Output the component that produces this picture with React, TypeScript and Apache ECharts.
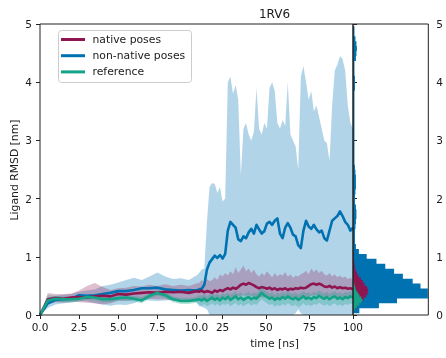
import React, { useEffect, useRef } from "react";
import * as echarts from "echarts";

// Time samples (ns): fine sampling in the first 10 ns, then the production run.
const timeEarly = [0, 0.5, 1, 1.5, 2, 2.5, 3, 3.5, 4, 4.5, 5, 5.5, 6, 6.5, 7, 7.5, 8, 8.5, 9, 9.5, 10];
const timeLate = [
  11.5, 13, 14.5, 16, 17.5, 19, 20.5, 22, 23.5, 25, 26.5, 28, 29.5, 31, 32.5, 34, 35.5, 37, 38.5, 40,
  41.5, 43, 44.5, 46, 47.5, 49, 50.5, 52, 53.5, 55, 56.5, 58, 59.5, 61, 62.5, 64, 65.5, 67, 68.5, 70,
  71.5, 73, 74.5, 76, 77.5, 79, 80.5, 82, 83.5, 85, 86.5, 88, 89.5, 91, 92.5, 94, 95.5, 97, 98.5, 100,
];

// native poses: mean and spread (nm)
const nativeMeanEarly = [0, 0.27, 0.29, 0.28, 0.3, 0.31, 0.3, 0.32, 0.33, 0.32, 0.36, 0.35, 0.37, 0.38, 0.39, 0.38, 0.4, 0.39, 0.4, 0.38, 0.41];
const nativeHiEarly = [0, 0.38, 0.36, 0.36, 0.37, 0.42, 0.5, 0.55, 0.48, 0.43, 0.46, 0.47, 0.5, 0.49, 0.52, 0.5, 0.53, 0.5, 0.52, 0.5, 0.54];
const nativeLoEarly = [0, 0.18, 0.22, 0.21, 0.23, 0.22, 0.21, 0.2, 0.18, 0.2, 0.25, 0.24, 0.26, 0.27, 0.28, 0.27, 0.27, 0.25, 0.26, 0.25, 0.27];
const nativeMeanLate = [
  0.4, 0.42, 0.39, 0.41, 0.4, 0.38, 0.42, 0.4, 0.43, 0.41, 0.44, 0.46, 0.44, 0.47, 0.45, 0.48, 0.52, 0.54, 0.52, 0.55,
  0.53, 0.51, 0.48, 0.46, 0.48, 0.47, 0.45, 0.47, 0.44, 0.46, 0.43, 0.45, 0.44, 0.46, 0.43, 0.45, 0.44, 0.46, 0.45, 0.47,
  0.46, 0.47, 0.5, 0.53, 0.54, 0.52, 0.54, 0.52, 0.49, 0.48, 0.5, 0.47, 0.49, 0.46, 0.48, 0.46, 0.47, 0.45, 0.46, 0.44,
];
const nativeHiLate = [
  0.55, 0.6, 0.55, 0.62, 0.58, 0.6, 0.65, 0.6, 0.7, 0.66, 0.72, 0.68, 0.75, 0.7, 0.82, 0.72, 0.78, 0.85, 0.75, 0.8,
  0.72, 0.78, 0.7, 0.66, 0.72, 0.68, 0.75, 0.7, 0.65, 0.72, 0.66, 0.7, 0.68, 0.74, 0.66, 0.7, 0.64, 0.68, 0.66, 0.7,
  0.72, 0.76, 0.7, 0.8, 0.74, 0.78, 0.72, 0.76, 0.7, 0.68, 0.72, 0.66, 0.7, 0.65, 0.68, 0.64, 0.66, 0.62, 0.64, 0.6,
];
const nativeLoLate = [
  0.27, 0.28, 0.26, 0.27, 0.26, 0.25, 0.28, 0.27, 0.29, 0.27, 0.3, 0.31, 0.29, 0.31, 0.3, 0.32, 0.33, 0.34, 0.33, 0.34,
  0.33, 0.32, 0.31, 0.3, 0.31, 0.3, 0.29, 0.3, 0.28, 0.3, 0.28, 0.29, 0.28, 0.3, 0.28, 0.29, 0.28, 0.3, 0.29, 0.3,
  0.3, 0.31, 0.32, 0.33, 0.34, 0.33, 0.34, 0.33, 0.31, 0.31, 0.32, 0.3, 0.31, 0.3, 0.31, 0.3, 0.3, 0.29, 0.3, 0.29,
];

// non-native poses: mean and spread (nm)
const nonNativeMeanEarly = [0, 0.2, 0.26, 0.27, 0.28, 0.34, 0.33, 0.34, 0.36, 0.38, 0.41, 0.41, 0.43, 0.46, 0.46, 0.47, 0.44, 0.43, 0.42, 0.43, 0.42];
const nonNativeHiEarly = [0, 0.3, 0.33, 0.35, 0.36, 0.4, 0.42, 0.44, 0.5, 0.52, 0.56, 0.6, 0.64, 0.6, 0.66, 0.73, 0.66, 0.62, 0.63, 0.6, 0.68];
const nonNativeLoEarly = [0, 0.12, 0.18, 0.2, 0.21, 0.24, 0.23, 0.2, 0.18, 0.16, 0.18, 0.17, 0.2, 0.26, 0.25, 0.24, 0.25, 0.26, 0.24, 0.25, 0.22];
const nonNativeMeanLate = [
  0.44, 0.45, 0.52, 0.78, 0.9, 0.96, 1.02, 0.98, 1.03, 0.97, 1.05, 1.45, 1.6, 1.55, 1.5, 1.3, 1.27, 1.35, 1.32, 1.42,
  1.48, 1.4, 1.55, 1.47, 1.4, 1.44, 1.57, 1.6, 1.55, 1.62, 1.66, 1.4, 1.32, 1.5, 1.58, 1.5, 1.38, 1.35, 1.2, 1.15,
  1.45, 1.62, 1.52, 1.48, 1.55, 1.47, 1.42, 1.45, 1.32, 1.28, 1.45, 1.62, 1.66, 1.7, 1.78, 1.7, 1.6, 1.55, 1.45, 1.5,
];
const nonNativeHiLate = [
  0.72, 0.78, 0.8, 1.6, 2.2, 2.27, 2.25, 2.1, 2.2, 1.95, 2.0, 4.0, 4.1, 3.8, 3.95, 3.7, 2.4, 3.2, 3.3, 3.1,
  3.0, 3.15, 3.9, 3.2, 3.1, 3.3, 3.2, 3.9, 4.0, 3.85, 3.3, 3.2, 3.35, 3.25, 4.0, 3.1, 3.0, 2.9, 2.5, 4.1,
  4.28, 4.0, 3.7, 3.85, 3.5, 3.6, 3.4, 3.2, 3.0, 2.95, 2.65, 3.6, 4.2, 4.3, 4.45, 4.4, 4.2, 3.6, 3.3, 3.2,
];
const nonNativeLoLate = [
  0.15, 0.14, 0.12, 0.1, 0, 0, 0, 0, 0, 0, 0, 0, 0, 0, 0, 0, 0, 0, 0, 0,
  0, 0, 0, 0, 0, 0, 0, 0, 0, 0, 0, 0, 0, 0, 0, 0, 0, 0.03, 0.1, 0.03,
  0, 0, 0, 0, 0, 0, 0, 0, 0, 0, 0, 0, 0, 0, 0, 0, 0, 0, 0, 0,
];

// reference pose: mean and spread (nm)
const refMeanEarly = [0, 0.25, 0.28, 0.27, 0.27, 0.28, 0.31, 0.3, 0.27, 0.27, 0.29, 0.3, 0.28, 0.25, 0.33, 0.38, 0.34, 0.27, 0.24, 0.24, 0.26];
const refHiEarly = [0, 0.35, 0.33, 0.32, 0.32, 0.33, 0.36, 0.35, 0.32, 0.32, 0.34, 0.35, 0.33, 0.31, 0.38, 0.43, 0.4, 0.32, 0.29, 0.29, 0.31];
const refLoEarly = [0, 0.17, 0.23, 0.22, 0.22, 0.23, 0.26, 0.25, 0.22, 0.22, 0.24, 0.25, 0.23, 0.2, 0.28, 0.33, 0.29, 0.22, 0.19, 0.19, 0.21];
const refMeanLate = [
  0.27, 0.25, 0.28, 0.24, 0.27, 0.3, 0.26, 0.29, 0.25, 0.3, 0.27, 0.31, 0.26, 0.29, 0.32, 0.27, 0.3, 0.26, 0.29, 0.31,
  0.27, 0.3, 0.28, 0.33, 0.38, 0.34, 0.31, 0.28, 0.3, 0.26, 0.29, 0.27, 0.31, 0.28, 0.32, 0.29, 0.27, 0.3, 0.26, 0.29,
  0.32, 0.28, 0.3, 0.27, 0.31, 0.29, 0.33, 0.3, 0.28, 0.31, 0.27, 0.3, 0.32, 0.28, 0.3, 0.27, 0.31, 0.29, 0.32, 0.3,
];
const refHiLate = [
  0.34, 0.33, 0.36, 0.32, 0.35, 0.38, 0.34, 0.37, 0.33, 0.38, 0.35, 0.39, 0.35, 0.37, 0.41, 0.36, 0.39, 0.34, 0.38, 0.4,
  0.36, 0.39, 0.37, 0.42, 0.46, 0.43, 0.4, 0.37, 0.39, 0.35, 0.38, 0.36, 0.4, 0.37, 0.41, 0.38, 0.36, 0.39, 0.35, 0.38,
  0.41, 0.37, 0.39, 0.36, 0.4, 0.38, 0.42, 0.39, 0.37, 0.4, 0.36, 0.39, 0.41, 0.37, 0.39, 0.36, 0.4, 0.38, 0.41, 0.39,
];
const refLoLate = [
  0.18, 0.16, 0.19, 0.15, 0.17, 0.2, 0.16, 0.19, 0.15, 0.19, 0.17, 0.2, 0.15, 0.18, 0.21, 0.16, 0.19, 0.15, 0.18, 0.2,
  0.16, 0.19, 0.17, 0.22, 0.27, 0.23, 0.2, 0.17, 0.19, 0.14, 0.17, 0.15, 0.19, 0.16, 0.2, 0.17, 0.15, 0.18, 0.13, 0.16,
  0.2, 0.16, 0.18, 0.15, 0.19, 0.17, 0.21, 0.18, 0.16, 0.19, 0.15, 0.18, 0.2, 0.16, 0.18, 0.15, 0.19, 0.17, 0.2, 0.18,
];

// RMSD distributions (counts per bin)
const nonNativeHistStart = 0.03;
const nonNativeHistWidth = 0.085;
const nonNativeHistCounts = [
  6.5, 26.5, 45, 76.5, 76.5, 69, 61, 51, 42, 33, 24, 14, 6, 3, 2, 2, 2, 2.5, 3, 3.5,
  3.5, 3, 2, 2, 2.5, 3, 3, 3, 2.5, 2, 1.5, 1.5, 1.5, 1.5, 1.5, 1.5, 1.5, 1.5, 1.5, 1.5,
  1.5, 1.5, 1.5, 1.5, 1.5, 2, 2, 2, 1.5, 1.5, 1.5, 3, 3.5, 4, 3.5, 2.5, 1.5, 1.5,
];
const nativeHistStart = 0.05;
const nativeHistWidth = 0.05;
const nativeHistCounts = [1, 2.5, 5, 8, 11, 13.5, 15, 15.5, 14.5, 12, 10, 8, 5.5, 4, 2.5, 2, 1.5, 1.2, 1, 1, 0.8];
const refHistStart = 0.04;
const refHistWidth = 0.04;
const refHistCounts = [1, 2, 4, 6.5, 8.5, 9.7, 8.5, 6.5, 5, 3.5, 2.5, 1.8, 1.2, 0.6];

// x-axis ticks (ns) and their labels
const timeTicks = [0, 2.5, 5, 7.5, 10, 25, 50, 75, 100];
const timeTickLabels = ["0.0", "2.5", "5.0", "7.5", "10.0", "25", "50", "75", "100"];

const NATIVE = "#8f1550";
const NON_NATIVE = "#0072b2";
const REFERENCE = "#13a386";
const FONT = "DejaVu Sans";
const INK = "#1a1a1a";

// Equilibration (0–10 ns) gets the same width as the 10–100 ns run.
const toAxis = (t: number) => (t <= 10 ? t : 10 + (t - 10) / 9);

const time = [...timeEarly, ...timeLate];

function bandSeries(lo: number[], hi: number[], fill: string) {
  const data = time.map((t, i) => [toAxis(t), lo[i], hi[i]]);
  return {
    type: "custom",
    xAxisIndex: 0,
    yAxisIndex: 0,
    silent: true,
    z: 1,
    clip: true,
    encode: { x: 0, y: [1, 2] },
    data,
    renderItem: (params: any, api: any) => {
      if (params.dataIndex !== 0) return null;
      const upper = data.map((d) => api.coord([d[0], d[2]]));
      const lower = data.map((d) => api.coord([d[0], d[1]])).reverse();
      return { type: "polygon", shape: { points: upper.concat(lower) }, style: { fill } };
    },
  };
}

function lineSeries(name: string, values: number[], color: string, z: number) {
  return {
    name,
    type: "line",
    xAxisIndex: 0,
    yAxisIndex: 0,
    data: time.map((t, i) => [toAxis(t), values[i]]),
    showSymbol: false,
    symbol: "none",
    silent: true,
    z,
    lineStyle: { color, width: 2.6, join: "round" },
  };
}

function histSeries(start: number, width: number, counts: number[], fill: string, z: number) {
  const data = counts.map((c, i) => [c, start + i * width, start + (i + 1) * width]);
  return {
    type: "custom",
    xAxisIndex: 1,
    yAxisIndex: 1,
    silent: true,
    z,
    encode: { x: 0, y: [1, 2] },
    data,
    renderItem: (params: any, api: any) => {
      if (params.dataIndex !== 0) return null;
      const pts: number[][] = [api.coord([0, data[0][1]])];
      data.forEach((d) => {
        pts.push(api.coord([d[0], d[1]]));
        pts.push(api.coord([d[0], d[2]]));
      });
      pts.push(api.coord([0, data[data.length - 1][2]]));
      return { type: "polygon", shape: { points: pts }, style: { fill } };
    },
  };
}

export default function App() {
  const ref = useRef<HTMLDivElement>(null);

  useEffect(() => {
    const chart = echarts.init(ref.current!, null, { renderer: "svg" });
    const tickU = timeTicks.map(toAxis);
    const axisText = { fontFamily: FONT, fontSize: 10.5, color: INK };

    const legendRows = [
      { label: "native poses", color: NATIVE },
      { label: "non-native poses", color: NON_NATIVE },
      { label: "reference", color: REFERENCE },
    ];

    chart.setOption({
      animation: false,
      grid: [
        { left: 40, top: 24, width: 313, height: 291, show: true, borderColor: "#222", borderWidth: 1, backgroundColor: "transparent", z: 10 },
        { left: 353, top: 24, width: 77, height: 291, show: true, borderColor: "#222", borderWidth: 1, backgroundColor: "transparent", z: 10 },
      ],
      xAxis: [
        {
          type: "value",
          gridIndex: 0,
          min: 0,
          max: 20,
          axisLine: { show: false },
          splitLine: { show: false },
          axisTick: { show: true, length: 4, customValues: tickU, lineStyle: { color: "#222" } },
          axisLabel: {
            ...axisText,
            margin: 6,
            customValues: tickU,
            formatter: (v: number) => {
              const j = tickU.findIndex((u) => Math.abs(u - v) < 1e-6);
              return j >= 0 ? timeTickLabels[j] : "";
            },
          },
        },
        { type: "value", gridIndex: 1, min: 0, max: 77, show: false },
      ],
      yAxis: [
        {
          type: "value",
          gridIndex: 0,
          min: 0,
          max: 5,
          interval: 1,
          position: "left",
          axisLine: { show: false },
          splitLine: { show: false },
          axisTick: { show: true, length: 4, lineStyle: { color: "#222" } },
          axisLabel: { ...axisText, margin: 8 },
        },
        {
          type: "value",
          gridIndex: 1,
          min: 0,
          max: 5,
          interval: 1,
          position: "right",
          axisLine: { show: false },
          splitLine: { show: false },
          axisTick: { show: true, length: 4, lineStyle: { color: "#222" } },
          axisLabel: { ...axisText, margin: 8 },
        },
      ],
      series: [
        bandSeries(nonNativeLoEarly.concat(nonNativeLoLate), nonNativeHiEarly.concat(nonNativeHiLate), "rgba(0,114,178,0.3)"),
        bandSeries(nativeLoEarly.concat(nativeLoLate), nativeHiEarly.concat(nativeHiLate), "rgba(143,21,80,0.28)"),
        bandSeries(refLoEarly.concat(refLoLate), refHiEarly.concat(refHiLate), "rgba(19,163,134,0.3)"),
        lineSeries("non-native poses", nonNativeMeanEarly.concat(nonNativeMeanLate), NON_NATIVE, 3),
        lineSeries("native poses", nativeMeanEarly.concat(nativeMeanLate), NATIVE, 4),
        lineSeries("reference", refMeanEarly.concat(refMeanLate), REFERENCE, 5),
        histSeries(nonNativeHistStart, nonNativeHistWidth, nonNativeHistCounts, NON_NATIVE, 2),
        histSeries(nativeHistStart, nativeHistWidth, nativeHistCounts, NATIVE, 3),
        histSeries(refHistStart, refHistWidth, refHistCounts, REFERENCE, 4),
      ],
      graphic: [
        {
          type: "text",
          x: 274.5,
          y: 14,
          style: { text: "1RV6", fontFamily: FONT, fontSize: 12, fill: INK, align: "center", verticalAlign: "middle" },
        },
        {
          type: "text",
          x: 274.5,
          y: 343,
          style: { text: "time [ns]", fontFamily: FONT, fontSize: 10.8, fill: INK, align: "center", verticalAlign: "middle" },
        },
        {
          type: "text",
          x: 14,
          y: 170,
          rotation: Math.PI / 2,
          style: { text: "Ligand RMSD [nm]", fontFamily: FONT, fontSize: 10.8, fill: INK, align: "center", verticalAlign: "middle" },
        },
        {
          type: "group",
          z: 20,
          children: [
            {
              type: "rect",
              shape: { x: 58.5, y: 30.5, width: 133, height: 52, r: 3 },
              style: { fill: "rgba(255,255,255,0.8)", stroke: "#cccccc", lineWidth: 1 },
            },
            ...legendRows.flatMap((row, i) => {
              const y = 39.5 + i * 16.2;
              return [
                { type: "line", shape: { x1: 61, y1: y, x2: 85, y2: y }, style: { stroke: row.color, lineWidth: 3 } },
                {
                  type: "text",
                  x: 92.5,
                  y,
                  style: { text: row.label, fontFamily: FONT, fontSize: 10.8, fill: INK, verticalAlign: "middle" },
                },
              ];
            }),
          ],
        },
      ],
    });

    return () => chart.dispose();
  }, []);

  return <div ref={ref} style={{ position: "fixed", left: 0, top: 0, width: 446, height: 358 }} />;
}
